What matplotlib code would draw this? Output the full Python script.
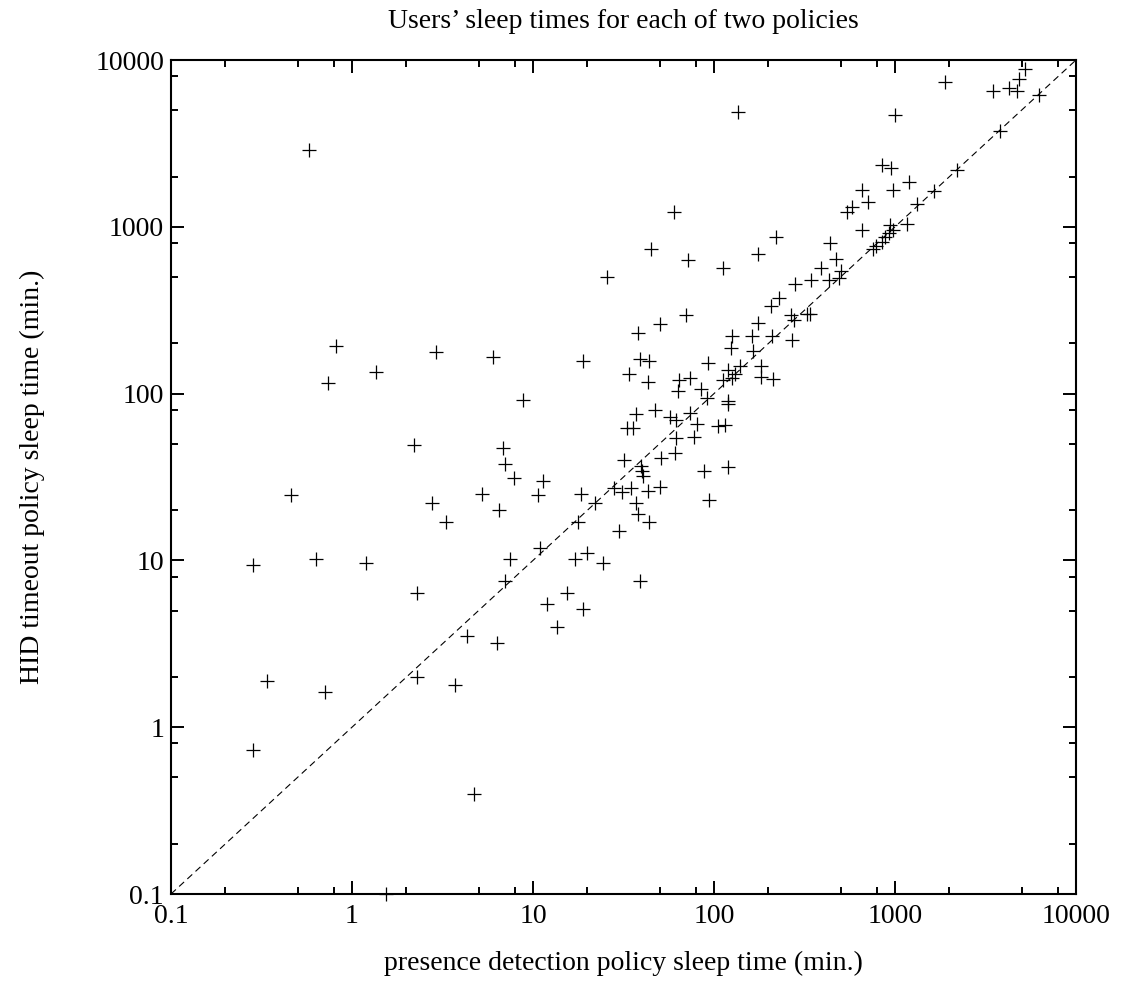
import matplotlib

matplotlib.use("Agg")
import matplotlib.pyplot as plt
from matplotlib.ticker import FixedLocator, FuncFormatter, LogLocator, NullFormatter

# sleep time under each policy, one entry per user (min.)
presence_minutes = [
    0.58, 25.5, 0.82, 2.9, 6.0, 19, 1.35, 0.74, 8.8, 2.2,
    6.8, 7.0, 7.9, 11.3, 0.46, 2.75, 5.2, 10.6, 6.5, 3.3,
    18.5, 22, 17.8, 28, 30, 0.285, 0.63, 1.2, 7.5, 11,
    17, 20, 24.5, 7.0, 2.3, 12, 15.5, 19, 13.5, 4.3,
    6.3, 0.34, 0.71, 2.3, 3.7, 0.285, 4.7, 1.55,
    31, 35, 43, 50, 94, 37, 38, 44, 39,
    1900, 5250, 4850, 3500, 4250, 4750, 6250, 136, 1000, 3800,
    850, 950, 2200, 1200, 655, 970, 1650, 710, 1320, 577,
    541, 60, 660, 940, 1170, 970, 930, 880, 845, 790,
    760, 220, 45, 175, 440, 470, 72, 112, 390, 345,
    430, 500, 490, 280, 230, 207, 265, 275, 325, 340,
    70, 50, 38, 176, 125, 162, 209, 270, 124, 165,
    39, 44, 93, 139, 181, 120, 131, 125, 112, 34,
    64, 74, 43, 182, 213, 63, 85, 92, 119, 119,
    47.5, 37, 57, 62, 74, 33, 35.5, 81, 105, 115,
    62, 78, 61, 51, 32, 39.5, 40, 40.5, 88, 119,
]
hid_minutes = [
    2880, 500, 194, 177, 166, 157, 135, 116, 92, 49,
    47, 38, 31, 30, 24.5, 22, 25, 24.5, 20, 17,
    25, 22, 17, 27, 15, 9.4, 10.2, 9.6, 10.2, 11.8,
    10.2, 11, 9.6, 7.5, 6.4, 5.5, 6.4, 5.1, 4.0, 3.5,
    3.2, 1.9, 1.63, 2.0, 1.8, 0.73, 0.4, 0.1,
    25.8, 27, 26, 27.4, 23, 22, 19, 17, 7.5,
    7400, 8800, 7650, 6500, 6750, 6500, 6150, 4850, 4700, 3750,
    2350, 2250, 2200, 1850, 1660, 1660, 1650, 1400, 1370, 1310,
    1230, 1220, 960, 1030, 1040, 960, 915, 865, 815, 770,
    740, 870, 740, 690, 800, 640, 630, 565, 570, 477,
    477, 540, 490, 455, 374, 335, 295, 277, 300, 300,
    296, 260, 230, 265, 220, 220, 220, 210, 188, 180,
    161, 157, 152, 147, 147, 138, 131, 124, 121, 131,
    121, 124, 117, 126, 122, 103, 106, 94, 90, 87,
    80, 75, 72, 69, 76, 62, 62, 66, 64, 65,
    54, 55, 44, 41, 40, 37, 34.5, 32, 34.5, 36.5,
]

decades = [0.1, 1, 10, 100, 1000, 10000]
decade_labels = ["0.1", "1", "10", "100", "1000", "10000"]

plt.rcParams["font.family"] = ["Liberation Serif", "DejaVu Serif"]

fig = plt.figure(figsize=(11.22, 9.83), dpi=100)
fig.patch.set_facecolor("white")
ax = fig.add_axes([171 / 1122, 1 - 894 / 983, 905 / 1122, 834 / 983])

ax.plot(decades, decades, color="black", linewidth=0.8, linestyle=(0, (6, 4)), zorder=2)
ax.plot(
    presence_minutes,
    hid_minutes,
    linestyle="none",
    marker="+",
    markersize=10,
    markeredgewidth=0.9,
    color="black",
    clip_on=False,
    zorder=3,
)

ax.set_xscale("log")
ax.set_yscale("log")
ax.set_xlim(0.1, 10000)
ax.set_ylim(0.1, 10000)


def decade_label(value, pos):
    for tick, label in zip(decades, decade_labels):
        if abs(value - tick) / tick < 1e-6:
            return label
    return ""


for axis in (ax.xaxis, ax.yaxis):
    axis.set_major_locator(FixedLocator(decades))
    axis.set_major_formatter(FuncFormatter(decade_label))
    axis.set_minor_locator(LogLocator(base=10, subs=[2, 5, 8]))
    axis.set_minor_formatter(NullFormatter())

ax.tick_params(which="both", direction="in", top=True, right=True, width=1.4, labelsize=20, colors="black")
ax.tick_params(which="major", length=9.5)
ax.tick_params(axis="x", which="major", pad=7)
ax.tick_params(axis="y", which="major", pad=5)
ax.tick_params(which="minor", length=5)
for spine in ax.spines.values():
    spine.set_linewidth(1.5)

ax.set_title("Users\u2019 sleep times for each of two policies", fontsize=20, pad=23)
ax.set_xlabel("presence detection policy sleep time (min.)", fontsize=20, labelpad=16)
ax.set_ylabel("HID timeout policy sleep time (min.)", fontsize=20, labelpad=36)

fig.savefig("out.png", dpi=100)
plt.close(fig)
